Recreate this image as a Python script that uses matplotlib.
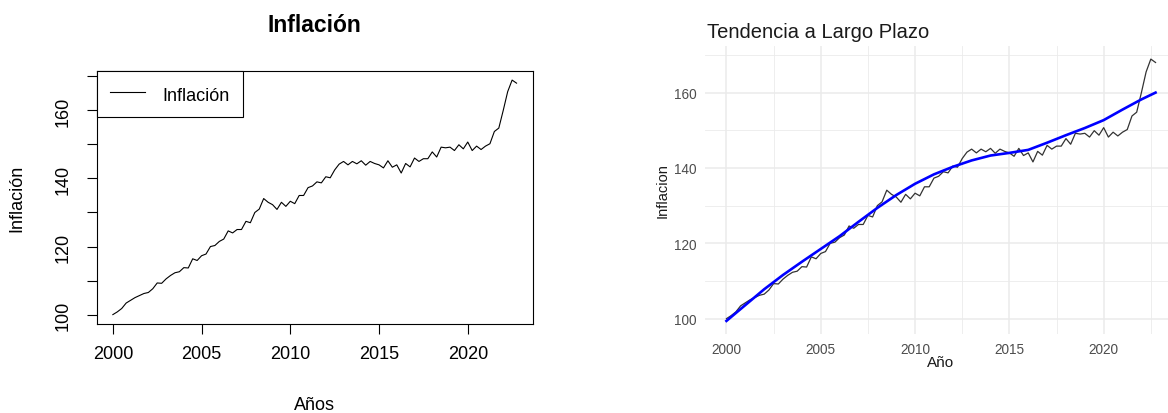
import numpy as np
import matplotlib
matplotlib.use("Agg")
import matplotlib.pyplot as plt

plt.rcParams['font.family'] = ['Liberation Sans', 'DejaVu Sans']

# serie trimestral 2000 Q1 - 2022 Q4
start_year = 2000
inflacion = [
    100.0, 100.8, 101.8, 103.4, 104.2, 105.0, 105.6, 106.2,
    106.5, 107.6, 109.3, 109.2, 110.5, 111.5, 112.3, 112.6,
    113.8, 113.7, 116.4, 115.9, 117.3, 117.8, 120.0, 120.3,
    121.5, 122.2, 124.6, 124.0, 125.0, 125.0, 127.4, 127.0,
    130.0, 131.0, 134.1, 133.0, 132.3, 130.9, 133.0, 131.8,
    133.3, 132.6, 135.0, 135.0, 137.3, 137.8, 139.0, 138.7,
    140.5, 140.2, 142.5, 144.2, 145.0, 144.0, 145.0, 144.3,
    145.2, 143.9, 145.0, 144.4, 144.0, 143.1, 145.2, 143.3,
    144.0, 141.6, 144.4, 143.4, 146.0, 145.0, 145.8, 145.8,
    147.8, 146.3, 149.2, 149.0, 149.2, 148.2, 149.9, 148.7,
    150.7, 148.2, 149.5, 148.5, 149.5, 150.2, 153.8, 154.8,
    160.0, 165.5, 168.9, 168.0,
]

# tendencia suavizada
trend_years = [2000, 2001, 2002, 2003, 2004, 2005, 2006, 2007, 2008, 2009,
               2010, 2011, 2012, 2013, 2014, 2015, 2016, 2017, 2018, 2019,
               2020, 2021, 2022, 2022.75]
trend_vals = [99.4, 103.6, 107.8, 111.6, 115.1, 118.5, 121.9, 125.7, 129.4, 132.8,
              135.8, 138.3, 140.3, 142.0, 143.3, 144.0, 144.8, 146.7, 148.7, 150.6,
              152.7, 155.5, 158.2, 160.0]

years = start_year + np.arange(len(inflacion)) / 4.0
y = np.array(inflacion)

W, H = 1168, 414
fig = plt.figure(figsize=(W / 100, H / 100), dpi=100)

# ---------- panel izquierdo (estilo R base) ----------
ax1 = fig.add_axes([96.7 / W, 1 - 325 / H, (532.7 - 96.7) / W, (325 - 71.7) / H])
ax1.plot(years, y, color='black', lw=0.8, label='Inflación')
xr = years.max() - years.min()
yr = y.max() - y.min()
ax1.set_xlim(years.min() - 0.04 * xr, years.max() + 0.04 * xr)
ax1.set_ylim(y.min() - 0.04 * yr, y.max() + 0.04 * yr)
ax1.set_xticks([2000, 2005, 2010, 2015, 2020])
ax1.set_yticks([100, 110, 120, 130, 140, 150, 160, 170])
ax1.set_yticklabels(['100', '', '120', '', '140', '', '160', ''],
                    rotation=90, va='center')
ax1.tick_params(direction='out', length=7, width=0.8, labelsize=13, colors='black')
ax1.tick_params(axis='x', pad=8)
ax1.tick_params(axis='y', pad=11)
for s in ax1.spines.values():
    s.set_linewidth(0.8)
leg = ax1.legend(loc='upper left', fontsize=13, frameon=True, fancybox=False,
                 edgecolor='black', borderaxespad=0, borderpad=0.75,
                 handlelength=1.9, handleheight=1.2, handletextpad=1.0)
leg.get_frame().set_linewidth(0.8)
leg.get_frame().set_alpha(1)

fig.text(314.7 / W, 1 - 25 / H, 'Inflación', ha='center', va='center',
         fontsize=16.5, fontweight='bold')
fig.text(314.7 / W, 1 - 406 / H, 'Años', ha='center', va='center', fontsize=13)
fig.text(17 / W, 1 - 198 / H, 'Inflación', ha='center', va='center',
         rotation=90, fontsize=13)

# ---------- panel derecho (estilo ggplot theme_minimal) ----------
ax2 = fig.add_axes([705 / W, 1 - 335 / H, (1177 - 705) / W, (335 - 47) / H])
ax2.plot(years, y, color='#333333', lw=0.9, zorder=2)
ax2.plot(trend_years, trend_vals, color='blue', lw=1.9, zorder=3)
xr2 = years.max() - years.min()
lo2 = min(y.min(), min(trend_vals))
hi2 = max(y.max(), max(trend_vals))
ax2.set_xlim(years.min() - 0.05 * xr2, years.max() + 0.05 * xr2)
ax2.set_ylim(lo2 - 0.05 * (hi2 - lo2), hi2 + 0.05 * (hi2 - lo2))
ax2.set_xticks([2000, 2005, 2010, 2015, 2020])
ax2.set_xticks([2002.5, 2007.5, 2012.5, 2017.5, 2022.5], minor=True)
ax2.set_yticks([100, 120, 140, 160])
ax2.set_yticks([110, 130, 150, 170], minor=True)
ax2.grid(which='major', color='#EBEBEB', lw=1.1)
ax2.grid(which='minor', color='#EBEBEB', lw=0.6)
ax2.set_axisbelow(True)
for s in ax2.spines.values():
    s.set_visible(False)
ax2.tick_params(which='both', length=0, labelsize=9.8, colors='#4D4D4D')
ax2.tick_params(axis='x', pad=6)
ax2.tick_params(axis='y', pad=6)

fig.text(707 / W, 1 - 32 / H, 'Tendencia a Largo Plazo', ha='left', va='center',
         fontsize=14.5, color='#1A1A1A')
fig.text(941 / W, 1 - 363 / H, 'Año', ha='center', va='center', fontsize=11,
         color='#1A1A1A')
fig.text(663 / W, 1 - 191 / H, 'Inflacion', ha='center', va='center',
         rotation=90, fontsize=10.5, color='#1A1A1A')

fig.savefig('out.png', dpi=100)
